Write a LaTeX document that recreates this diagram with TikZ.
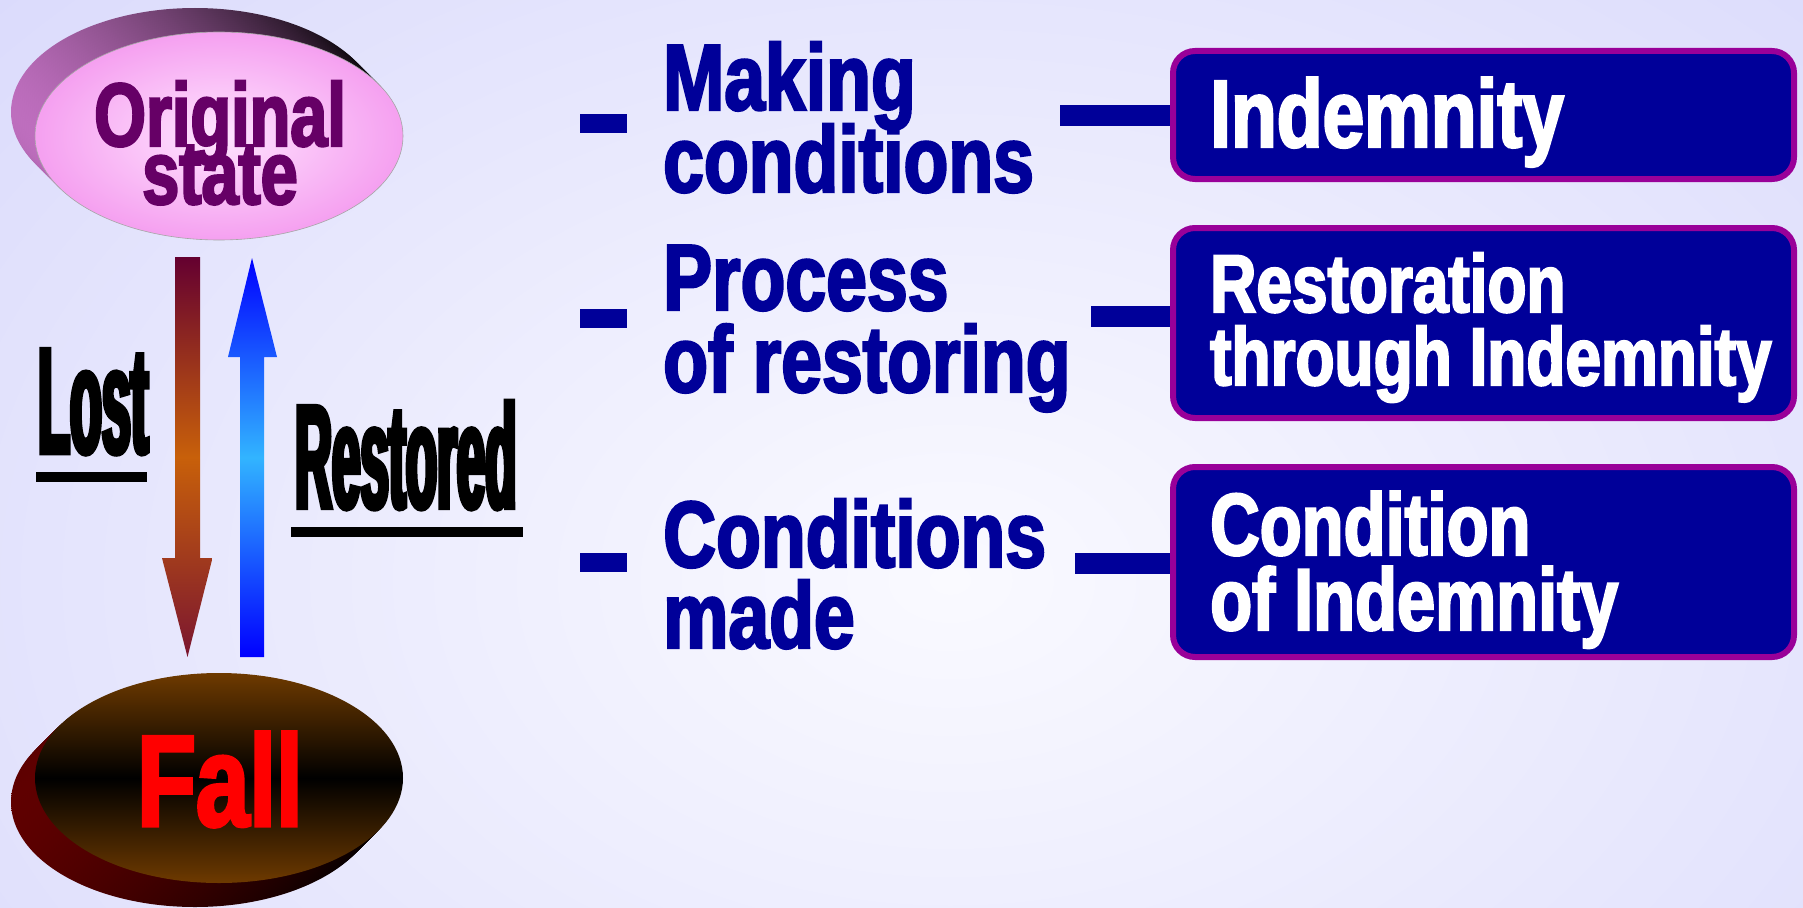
\documentclass[tikz,border=0pt]{standalone}
\usepackage{fontspec}
\newfontfamily\fA[FakeStretch=0.78,FakeBold=2.5]{Liberation Sans Bold}
\newfontfamily\fB[FakeStretch=0.74,FakeBold=2.5]{Liberation Sans Bold}
\newfontfamily\fC[FakeStretch=0.345,FakeBold=3]{Liberation Sans Bold}
\usetikzlibrary{calc,shapes.geometric}
\definecolor{navy}{RGB}{0,0,153}
\definecolor{plum}{RGB}{102,0,102}
\definecolor{boxedge}{RGB}{153,0,153}
\definecolor{bgedge}{RGB}{204,204,250}
\definecolor{bgmid}{RGB}{250,250,255}
\definecolor{pinkin}{RGB}{255,228,255}
\definecolor{pinkout}{RGB}{245,160,240}
\definecolor{shadL}{RGB}{190,110,190}
\definecolor{fallbrown}{RGB}{110,58,0}
\definecolor{fallshad}{RGB}{95,0,0}
\definecolor{lostT}{RGB}{100,0,48}
\definecolor{lostM}{RGB}{200,96,10}
\definecolor{lostB}{RGB}{122,21,48}
\definecolor{restE}{RGB}{0,0,255}
\definecolor{restM}{RGB}{50,180,255}
\begin{document}
\begin{tikzpicture}[x=1pt,y=-1pt,
  menu/.style={font=\fA\fontsize{94}{94}\selectfont, text=navy, inner sep=0, anchor=base west},
  boxtxt/.style={text=white, inner sep=0, anchor=base west},
  box/.style={draw=boxedge, line width=6pt, fill=navy, rounded corners=22pt, minimum width=621pt, inner sep=0},
  bullet/.style={fill=navy, minimum width=47pt, minimum height=19pt, inner sep=0},
  link/.style={draw=navy, line width=21pt},
  bigtxt/.style={inner sep=0, anchor=base}
]
\useasboundingbox (0,0) rectangle (1803,907);
\fill[bgedge] (0,0) rectangle (1803,907);
\begin{scope}
\clip (0,0) rectangle (1803,907);
\shade[inner color=bgmid, outer color=bgedge] (950,580) ellipse [x radius=1900pt, y radius=1300pt];
\end{scope}

% Original state ellipse
\foreach \k in {24,22,...,2}
  \shade[left color=shadL, right color=black] (219-\k,136-\k) ellipse [x radius=184pt, y radius=104pt];
\node[ellipse, minimum width=368pt, minimum height=208pt, inner color=pinkin, outer color=pinkout, draw=gray!70, line width=0.6pt] (orig) at (219,136) {};
\node[bigtxt, font=\fB\fontsize{90}{90}\selectfont, text=plum] (orig1) at (220,146) {Original};
\node[bigtxt, font=\fB\fontsize{90}{90}\selectfont, text=plum] (orig2) at (220,204) {state};

% Fall ellipse
\foreach \k in {24,22,...,2}
  \shade[left color=fallshad, right color=black] (219-\k,778+\k) ellipse [x radius=184pt, y radius=105pt];
\node[ellipse, minimum width=368pt, minimum height=210pt, top color=fallbrown, bottom color=fallbrown, middle color=black] (fall) at (219,778) {};
\node[bigtxt, font=\fB\fontsize{130}{130}\selectfont, text=red] (falltxt) at (220,826) {Fall};

% arrows
\shade[top color=lostT, bottom color=lostB, middle color=lostM]
  (175,257) -- (200,257) -- (200,558) -- (212.5,558) -- (187.5,657) -- (162,558) -- (175,558) -- cycle;
\shade[top color=restE, bottom color=restE, middle color=restM]
  (240,657) -- (264,657) -- (264,357) -- (277,357) -- (252,258) -- (228,357) -- (240,357) -- cycle;

% Lost / Restored
\node[font=\fC\fontsize{151}{151}\selectfont, anchor=base west, inner sep=0] (lost) at (38,453) {Lost};
\fill (36,472) rectangle (147,482);
\node[font=\fC\fontsize{148}{148}\selectfont, anchor=base west, inner sep=0] (restored) at (295,508) {Restored};
\fill (291,527) rectangle (523,537);

% bullets
\node[bullet] (b1) at (603.5,123) {};
\node[bullet] (b2) at (603.5,318) {};
\node[bullet] (b3) at (603.5,562) {};

% menu texts
\node[menu] (m1a) at (663,110) {Making};
\node[menu] (m1b) at (663,192) {conditions};
\node[menu] (m2a) at (663,310) {Process};
\node[menu] (m2b) at (663,392) {of restoring};
\node[menu] (m3a) at (663,567) {Conditions};
\node[menu] (m3b) at (663,648) {made};

% boxes
\node[box, minimum height=128pt] (box1) at (1483.5,115) {};
\node[box, minimum height=190pt] (box2) at (1483.5,323) {};
\node[box, minimum height=190pt] (box3) at (1483.5,562) {};

\node[boxtxt, font=\fA\fontsize{96}{96}\selectfont] (t1) at (1210,147) {Indemnity};
\node[boxtxt, font=\fA\fontsize{82}{82}\selectfont] (t2a) at (1210,312) {Restoration};
\node[boxtxt, font=\fA\fontsize{82}{82}\selectfont] (t2b) at (1210,385) {through Indemnity};
\node[boxtxt, font=\fA\fontsize{88}{88}\selectfont] (t3a) at (1210,555) {Condition};
\node[boxtxt, font=\fA\fontsize{88}{88}\selectfont] (t3b) at (1210,630) {of Indemnity};

% connectors
\coordinate (k1) at (1060,115);
\coordinate (k2) at (1091,316);
\coordinate (k3) at (1075,563);
\draw[link] (k1) -- (k1 -| box1.west);
\draw[link] (k2) -- (k2 -| box2.west);
\draw[link] (k3) -- (k3 -| box3.west);
\end{tikzpicture}
\end{document}
